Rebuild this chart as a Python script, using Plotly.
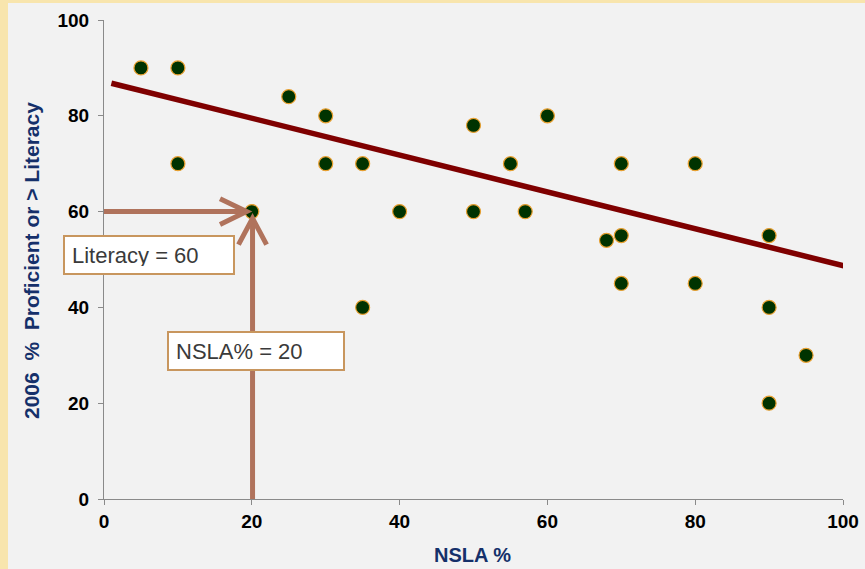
import plotly.graph_objects as go

# ---- data ----
nsla_pct = [5, 10, 10, 20, 25, 30, 30, 35, 35, 40, 50, 50, 55, 57, 60, 68, 70, 70, 70, 80, 80, 90, 90, 90, 95]
literacy_pct = [90, 90, 70, 60, 84, 80, 70, 70, 40, 60, 78, 60, 70, 60, 80, 54, 55, 70, 45, 70, 45, 55, 40, 20, 30]
trend_x = [1, 100.6]
trend_y = [86.8, 48.5]
highlight_x = 20
highlight_y = 60
x_ticks = [0, 20, 40, 60, 80, 100]
y_ticks = [0, 20, 40, 60, 80, 100]

W, H = 865, 569
ML, MR, MT, MB = 104, 22, 20, 70
PW, PH = W - ML - MR, H - MT - MB

def px_x(p):  # pixel -> paper x
    return (p - ML) / PW

def px_y(p):  # pixel -> paper y
    return (H - MB - p) / PH

arrow_col = "#b0735c"
fig = go.Figure()

fig.add_trace(go.Scatter(x=trend_x, y=trend_y, mode="lines",
                         line=dict(color="#7f0000", width=5.5), hoverinfo="skip"))
fig.add_trace(go.Scatter(x=nsla_pct, y=literacy_pct, mode="markers",
                         marker=dict(size=14, color="#003300",
                                     line=dict(color="#e8a030", width=1.2)),
                         cliponaxis=False))

shapes = []
# cream border strips (slide background)
shapes.append(dict(type="rect", xref="paper", yref="paper", layer="below",
                   x0=px_x(0), x1=px_x(8), y0=px_y(H), y1=px_y(0),
                   fillcolor="#f8e5ad", line=dict(width=0)))
shapes.append(dict(type="rect", xref="paper", yref="paper", layer="below",
                   x0=px_x(0), x1=px_x(W), y0=px_y(3), y1=px_y(0),
                   fillcolor="#f8e5ad", line=dict(width=0)))

# horizontal arrow to highlighted point
hx_tip = highlight_x - 0.7
shapes.append(dict(type="line", xref="x", yref="y", x0=-1, x1=hx_tip - 0.3,
                   y0=highlight_y, y1=highlight_y,
                   line=dict(color=arrow_col, width=5)))
shapes.append(dict(type="path", xref="x", yref="y",
                   path=f"M {hx_tip-3.6},{highlight_y+2.7} L {hx_tip},{highlight_y} L {hx_tip-3.6},{highlight_y-2.7}",
                   line=dict(color=arrow_col, width=5)))
# vertical arrow
vy_tip = highlight_y - 1.4
shapes.append(dict(type="line", xref="x", yref="y", x0=highlight_x + 0.1, x1=highlight_x + 0.1,
                   y0=-1.3, y1=vy_tip - 0.5,
                   line=dict(color=arrow_col, width=5)))
shapes.append(dict(type="path", xref="x", yref="y",
                   path=f"M {highlight_x+0.1-1.9},{vy_tip-5.5} L {highlight_x+0.1},{vy_tip} L {highlight_x+0.1+1.9},{vy_tip-5.5}",
                   line=dict(color=arrow_col, width=5)))

box_font = dict(family="Liberation Sans, Arial", size=22, color="#3a3a3a")
annotations = [
    dict(text="Literacy = 60", xref="paper", yref="paper",
         x=px_x(63), y=px_y(255), xanchor="left", yanchor="middle",
         showarrow=False, align="left", width=154, height=22, borderpad=7,
         bgcolor="white", bordercolor="#c8965e", borderwidth=2, font=box_font),
    dict(text="NSLA% = 20", xref="paper", yref="paper",
         x=px_x(167), y=px_y(351), xanchor="left", yanchor="middle",
         showarrow=False, align="left", width=160, height=22, borderpad=7,
         bgcolor="white", bordercolor="#c8965e", borderwidth=2, font=box_font),
    dict(text="NSLA %", xref="paper", yref="paper", x=px_x(472), y=px_y(555),
         xanchor="center", yanchor="middle", showarrow=False,
         font=dict(family="Liberation Sans, Arial", size=20, color="#15306a", weight="bold")),
    dict(text="2006\u00a0\u00a0%\u00a0\u00a0Proficient or > Literacy", xref="paper", yref="paper",
         x=px_x(31), y=px_y(261), xanchor="center", yanchor="middle", textangle=-90,
         showarrow=False,
         font=dict(family="Liberation Sans, Arial", size=21, color="#15306a", weight="bold")),
]

axis_common = dict(showgrid=False, zeroline=False, showline=True, linecolor="#8a8a8a",
                   linewidth=1, ticks="outside", ticklen=5, tickcolor="#8a8a8a",
                   automargin=False,
                   tickfont=dict(family="Liberation Sans, Arial", size=19, color="black", weight="bold"))

fig.update_layout(
    width=W, height=H, margin=dict(l=ML, r=MR, t=MT, b=MB),
    paper_bgcolor="#f2f2f2", plot_bgcolor="#f2f2f2",
    showlegend=False, shapes=shapes, annotations=annotations,
    xaxis=dict(range=[0, 100], tickvals=x_ticks, **axis_common),
    yaxis=dict(range=[0, 100], tickvals=y_ticks, ticklabelstandoff=5, **axis_common),
)

fig.write_html("out.html", config={"displayModeBar": False},
               post_script="document.body.style.margin='0px';document.body.style.overflow='hidden';")
